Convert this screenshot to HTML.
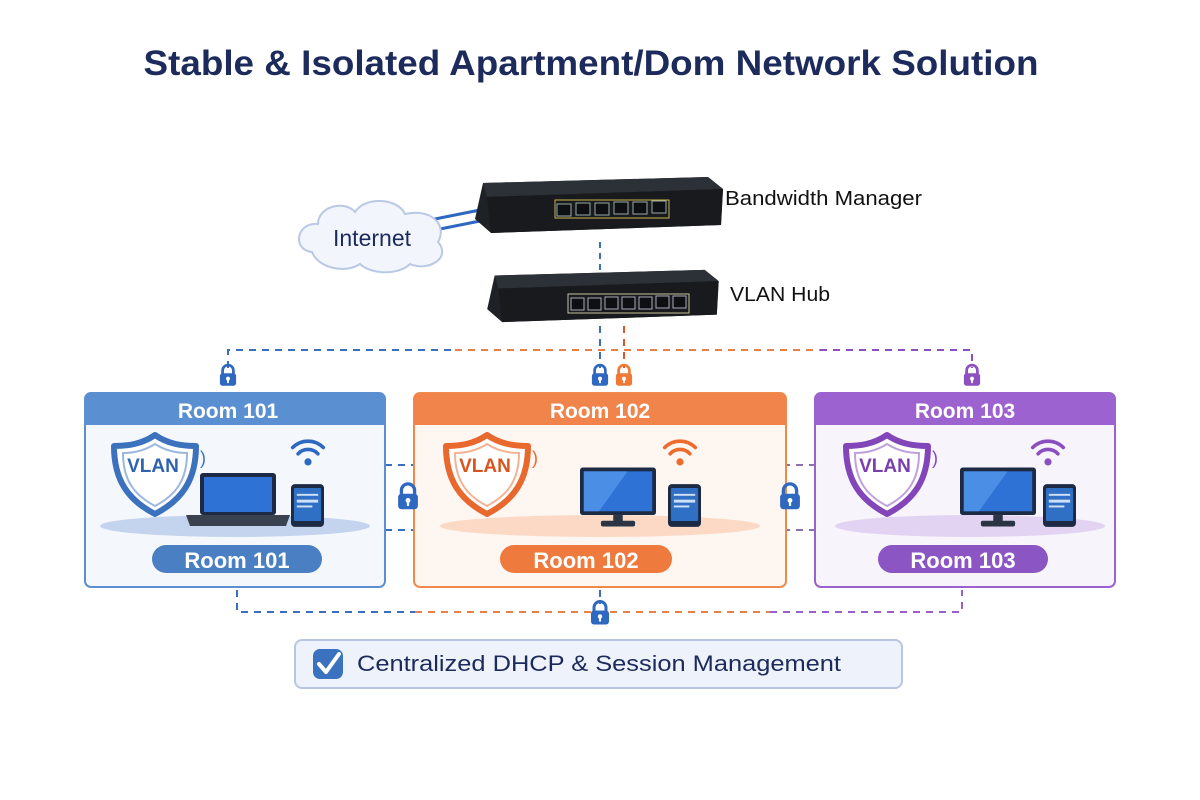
<!DOCTYPE html>
<html><head><meta charset="utf-8"><style>
html,body{margin:0;padding:0;background:#fff;width:1200px;height:800px;overflow:hidden}
svg{display:block}
text{font-family:"Liberation Sans","DejaVu Sans",sans-serif}
</style></head><body>
<svg width="1200" height="800" viewBox="0 0 1200 800" xmlns="http://www.w3.org/2000/svg">
<defs>
<symbol id="lock" viewBox="0 0 20 24" overflow="visible">
<path d="M4 11 V7 a6 6 0 0 1 12 0 V11" fill="none" stroke="currentColor" stroke-width="3"/>
<rect x="1" y="10" width="18" height="14" rx="3" fill="currentColor"/>
<circle cx="10" cy="16" r="2.2" fill="#fff"/><rect x="9" y="16" width="2" height="5" fill="#fff"/>
</symbol>
<symbol id="shield" viewBox="0 0 90 84" overflow="visible">
<path d="M45 3 C58 12 72 14 86 14 C86 48 72 68 45 82 C18 68 4 48 4 14 C18 14 32 12 45 3Z" fill="#fff" stroke="currentColor" stroke-width="6" stroke-linejoin="round"/>
<path d="M45 12 C56 19 67 21 77 21 C77 48 66 63 45 74 C24 63 13 48 13 21 C23 21 34 19 45 12Z" fill="#fff" stroke="currentColor" stroke-width="2" opacity=".5"/>
</symbol>
<symbol id="wifi" viewBox="0 0 40 34" overflow="visible">
<path d="M3 12 a24 24 0 0 1 34 0" fill="none" stroke="currentColor" stroke-width="4" stroke-linecap="round"/>
<path d="M9 19 a15 15 0 0 1 22 0" fill="none" stroke="currentColor" stroke-width="4" stroke-linecap="round"/>
<circle cx="20" cy="28" r="4" fill="currentColor"/>
</symbol>
<symbol id="tablet" viewBox="0 0 34 44" overflow="visible">
<rect x="0" y="0" width="34" height="44" rx="4" fill="#1d2a44"/>
<rect x="3" y="4" width="28" height="34" rx="1" fill="#2f6fc4"/>
<rect x="6" y="10" width="22" height="2" fill="#cfe0f7"/><rect x="6" y="16" width="22" height="3" fill="#cfe0f7"/><rect x="6" y="22" width="16" height="2" fill="#cfe0f7"/>
</symbol>
<symbol id="monitor" viewBox="0 0 80 62" overflow="visible">
<rect x="0" y="0" width="80" height="50" rx="3" fill="#1d2a44"/>
<rect x="4" y="4" width="72" height="42" fill="#2e72d6"/>
<path d="M4 4 H50 L20 46 H4Z" fill="#4b8ee6"/>
<rect x="35" y="50" width="10" height="7" fill="#2a3444"/><rect x="22" y="56" width="36" height="6" rx="2" fill="#2a3444"/>
</symbol>
<symbol id="switch" viewBox="0 0 250 60" overflow="visible">
<path d="M10 8 L235 2 L250 14 L248 50 L18 58 L2 44 Z" fill="#1e2126"/>
<path d="M10 8 L235 2 L250 14 L14 22 Z" fill="#2c3037"/>
<path d="M14 22 L250 14 L248 50 L18 58Z" fill="#181a1e"/>
</symbol>
</defs>
<rect width="1200" height="800" fill="#fff"/>
<text x="591" y="75" text-anchor="middle" font-size="35" font-weight="bold" fill="#1c2a5c" textLength="895" lengthAdjust="spacingAndGlyphs">Stable &amp; Isolated Apartment/Dom Network Solution</text>

<path d="M420 222 L480 210 M425 232 L485 220" stroke="#2f68c0" stroke-width="3"/>
<path d="M312 252 C292 250 296 222 318 224 C318 206 345 200 355 212 C365 196 398 198 405 214 C430 208 448 224 438 242 C452 258 428 272 410 264 C398 276 370 274 360 264 C345 274 318 268 312 252Z" fill="#f2f6fc" stroke="#b9c8e4" stroke-width="2"/>
<text x="372" y="246" text-anchor="middle" font-size="23" fill="#1c2a5c">Internet</text>

<use href="#switch" x="473" y="175" width="250" height="60"/>
<g fill="#0d0f12" stroke="#9aa" stroke-width="1">
<rect x="557" y="204" width="14" height="12"/><rect x="576" y="203" width="14" height="12"/><rect x="595" y="203" width="14" height="12"/><rect x="614" y="202" width="14" height="12"/><rect x="633" y="202" width="14" height="12"/><rect x="652" y="201" width="14" height="12"/>
</g>
<rect x="555" y="200" width="114" height="18" fill="none" stroke="#c9b64a" stroke-width="1"/>
<line x1="600" y1="242" x2="600" y2="272" stroke="#3a6fc0" stroke-width="2" stroke-dasharray="6,5"/>
<use href="#switch" x="484" y="268" width="236" height="56"/>
<g fill="#0d0f12" stroke="#aab" stroke-width="1">
<rect x="571" y="298" width="13" height="12"/><rect x="588" y="298" width="13" height="12"/><rect x="605" y="297" width="13" height="12"/><rect x="622" y="297" width="13" height="12"/><rect x="639" y="297" width="13" height="12"/><rect x="656" y="296" width="13" height="12"/><rect x="673" y="296" width="13" height="12"/>
</g>
<rect x="568" y="294" width="121" height="19" fill="none" stroke="#c9c29a" stroke-width="1"/>
<text x="725" y="205" font-size="20" fill="#111" textLength="197" lengthAdjust="spacingAndGlyphs">Bandwidth Manager</text>
<text x="730" y="301" font-size="20" fill="#111" textLength="100" lengthAdjust="spacingAndGlyphs">VLAN Hub</text>

<g fill="none" stroke-width="2" stroke-dasharray="7,6">
<path d="M228 368 V350 H455" stroke="#3a6fc0"/>
<path d="M455 350 H820" stroke="#e8804a"/>
<path d="M820 350 H972 V368" stroke="#8e4fc0"/>
<path d="M600 326 V368" stroke="#3a6fc0"/>
<path d="M624 326 V368" stroke="#e0562a"/>
</g>
<use href="#lock" x="219" y="364" width="18" height="22" color="#2f68c0"/>
<use href="#lock" x="591" y="364" width="18" height="22" color="#2f68c0"/>
<use href="#lock" x="615" y="364" width="18" height="22" color="#ee7a36"/>
<use href="#lock" x="963" y="364" width="18" height="22" color="#8e4fc0"/>

<g fill="none" stroke-width="2" stroke-dasharray="7,6">
<path d="M372 465 H430 M372 530 H430" stroke="#3a6fc0"/>
<path d="M770 465 H830 M770 530 H830" stroke="#8e6fb0"/>
</g>

<!-- Room 101 -->
<rect x="85" y="393" width="300" height="194" rx="6" fill="#f4f7fc" stroke="#5b8fd0" stroke-width="2"/>
<path d="M85 425 V399 a6 6 0 0 1 6 -6 H379 a6 6 0 0 1 6 6 V425Z" fill="#5a8fd2"/>
<text x="228" y="418" text-anchor="middle" font-size="21" font-weight="bold" fill="#fff">Room 101</text>
<ellipse cx="235" cy="526" rx="135" ry="11" fill="#c4d4ee"/>
<use href="#shield" x="110" y="432" width="90" height="84" color="#3c72bd"/>
<text x="153" y="472" text-anchor="middle" font-size="19" font-weight="bold" fill="#2f62b0">VLAN</text>
<text x="200" y="464" font-size="18" fill="#3c72bd">)</text>
<use href="#wifi" x="290" y="436" width="36" height="32" color="#2f68c0"/>
<rect x="200" y="473" width="76" height="42" rx="3" fill="#1d2a44"/><rect x="204" y="477" width="68" height="35" fill="#2e72d6"/>
<path d="M186 515 H290 L286 526 H190Z" fill="#3a4250"/>
<use href="#tablet" x="291" y="484" width="33" height="43"/>
<rect x="152" y="545" width="170" height="28" rx="14" fill="#4a7fc4"/>
<text x="237" y="568" text-anchor="middle" font-size="22" font-weight="bold" fill="#fff">Room 101</text>

<!-- Room 102 -->
<rect x="414" y="393" width="372" height="194" rx="6" fill="#fdf6f1" stroke="#f08a4b" stroke-width="2"/>
<path d="M414 425 V399 a6 6 0 0 1 6 -6 H780 a6 6 0 0 1 6 6 V425Z" fill="#f0844a"/>
<text x="600" y="418" text-anchor="middle" font-size="21" font-weight="bold" fill="#fff">Room 102</text>
<ellipse cx="600" cy="526" rx="160" ry="11" fill="#fbd9c4"/>
<use href="#shield" x="442" y="432" width="90" height="84" color="#e8682e"/>
<text x="485" y="472" text-anchor="middle" font-size="19" font-weight="bold" fill="#d9541f">VLAN</text>
<text x="532" y="464" font-size="18" fill="#e8682e">)</text>
<use href="#wifi" x="662" y="436" width="36" height="32" color="#ef6b2c"/>
<use href="#monitor" x="580" y="467" width="76" height="60"/>
<use href="#tablet" x="668" y="484" width="33" height="43"/>
<rect x="500" y="545" width="172" height="28" rx="14" fill="#ef7a3e"/>
<text x="586" y="568" text-anchor="middle" font-size="22" font-weight="bold" fill="#fff">Room 102</text>

<!-- Room 103 -->
<rect x="815" y="393" width="300" height="194" rx="6" fill="#f8f4fc" stroke="#9a62cc" stroke-width="2"/>
<path d="M815 425 V399 a6 6 0 0 1 6 -6 H1109 a6 6 0 0 1 6 6 V425Z" fill="#9c62cf"/>
<text x="965" y="418" text-anchor="middle" font-size="21" font-weight="bold" fill="#fff">Room 103</text>
<ellipse cx="970" cy="526" rx="135" ry="11" fill="#e2d3f2"/>
<use href="#shield" x="842" y="432" width="90" height="84" color="#8346b8"/>
<text x="885" y="472" text-anchor="middle" font-size="19" font-weight="bold" fill="#7a3fae">VLAN</text>
<text x="932" y="464" font-size="18" fill="#8346b8">)</text>
<use href="#wifi" x="1030" y="436" width="36" height="32" color="#8a4fc0"/>
<use href="#monitor" x="960" y="467" width="76" height="60"/>
<use href="#tablet" x="1043" y="484" width="33" height="43"/>
<rect x="878" y="545" width="170" height="28" rx="14" fill="#8c55c4"/>
<text x="963" y="568" text-anchor="middle" font-size="22" font-weight="bold" fill="#fff">Room 103</text>

<!-- locks between boxes (on top) -->
<use href="#lock" x="397" y="482" width="22" height="28" color="#2f68c0"/>
<use href="#lock" x="779" y="482" width="22" height="28" color="#2f68c0"/>

<g fill="none" stroke-width="2" stroke-dasharray="7,6">
<path d="M237 590 V612 H415" stroke="#3a6fc0"/>
<path d="M415 612 H770" stroke="#e8804a"/>
<path d="M770 612 H962 V590" stroke="#9a5fcc"/>
<path d="M600 590 V604" stroke="#3a6fc0"/>
</g>
<use href="#lock" x="590" y="600" width="20" height="25" color="#2f68c0"/>

<rect x="295" y="640" width="607" height="48" rx="7" fill="#eef2fa" stroke="#b8c6e2" stroke-width="2"/>
<rect x="313" y="649" width="30" height="30" rx="7" fill="#3a72c0"/>
<path d="M319 664 L326 672 L339 654" fill="none" stroke="#fff" stroke-width="4" stroke-linecap="round" stroke-linejoin="round"/>
<text x="357" y="671" font-size="22" fill="#1c2a5c" textLength="484" lengthAdjust="spacingAndGlyphs">Centralized DHCP &amp; Session Management</text>
</svg>
</body></html>
